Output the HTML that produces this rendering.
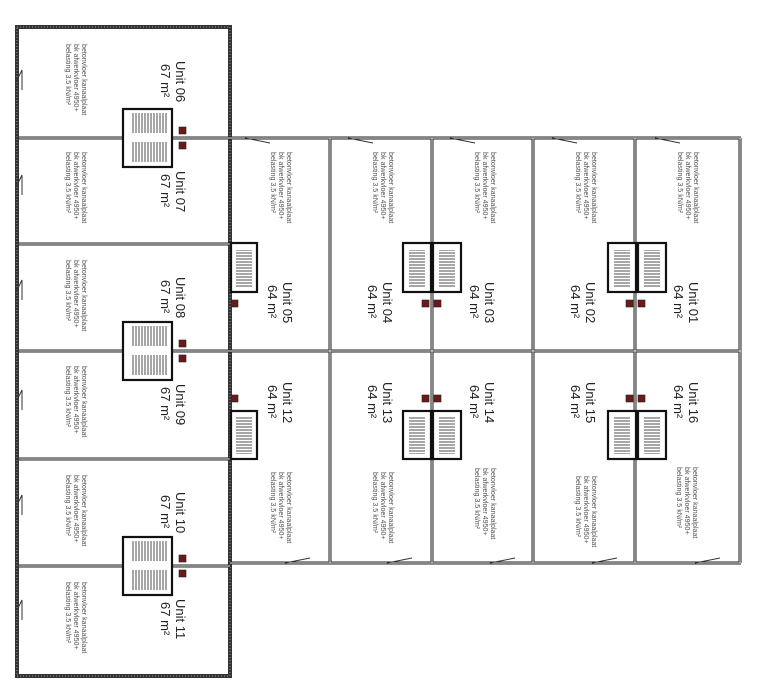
<!DOCTYPE html>
<html><head><meta charset="utf-8"><style>
html,body{margin:0;padding:0;background:#fff;width:757px;height:689px;overflow:hidden}
svg{display:block}
.u{font-family:"Liberation Sans",sans-serif;font-size:13px;fill:#222}
.n{font-family:"Liberation Sans",sans-serif;font-size:7.1px;fill:#555}
.w{stroke:#222;stroke-width:3;fill:none}
.wi{stroke:#e8e8e8;stroke-width:1;fill:none}
.st{fill:#fff;stroke:#111;stroke-width:2.2}
.r{fill:#6b1a1a;stroke:#222;stroke-width:.6}
</style></head><body>
<svg width="757" height="689" viewBox="0 0 757 689" xmlns="http://www.w3.org/2000/svg">
<defs>
<pattern id="pv" width="3" height="3" patternUnits="userSpaceOnUse"><line x1="1" y1="0" x2="1" y2="3" stroke="#222" stroke-width=".8"/></pattern>
<pattern id="ph" width="3" height="3" patternUnits="userSpaceOnUse"><line x1="0" y1="1" x2="3" y2="1" stroke="#222" stroke-width=".8"/></pattern>
</defs>
<rect x="17" y="27" width="213" height="649" fill="none" stroke="#333" stroke-width="4"/>
<rect x="17" y="27" width="213" height="649" fill="none" stroke="#999" stroke-width="1" stroke-dasharray="1 2"/>
<g class="w"><line x1="19" y1="138" x2="230" y2="138"/><line x1="19" y1="244" x2="230" y2="244"/><line x1="19" y1="351" x2="230" y2="351"/><line x1="19" y1="459" x2="230" y2="459"/><line x1="19" y1="566" x2="230" y2="566"/></g>
<g class="wi"><line x1="19" y1="138" x2="230" y2="138"/><line x1="19" y1="244" x2="230" y2="244"/><line x1="19" y1="351" x2="230" y2="351"/><line x1="19" y1="459" x2="230" y2="459"/><line x1="19" y1="566" x2="230" y2="566"/></g>
<g class="w"><line x1="230" y1="138" x2="741" y2="138"/><line x1="230" y1="563" x2="741" y2="563"/><line x1="740" y1="138" x2="740" y2="563"/><line x1="230" y1="351" x2="741" y2="351"/>
<line x1="330" y1="138" x2="330" y2="563"/><line x1="432" y1="138" x2="432" y2="563"/><line x1="533" y1="138" x2="533" y2="563"/><line x1="635" y1="138" x2="635" y2="563"/></g>
<g class="wi"><line x1="230" y1="138" x2="741" y2="138"/><line x1="230" y1="563" x2="741" y2="563"/><line x1="740" y1="138" x2="740" y2="563"/><line x1="230" y1="351" x2="741" y2="351"/>
<line x1="330" y1="138" x2="330" y2="563"/><line x1="432" y1="138" x2="432" y2="563"/><line x1="533" y1="138" x2="533" y2="563"/><line x1="635" y1="138" x2="635" y2="563"/></g>
<g stroke="#333" stroke-width="1" fill="none">
<path d="M17 80 l5 -10 v20 M17 185 l5 -10 v20 M17 290 l5 -10 v20 M17 400 l5 -10 v20 M17 505 l5 -10 v20 M17 610 l5 -10 v20"/>
<path d="M245 138 l25 5 M348 138 l25 5 M450 138 l25 5 M552 138 l25 5 M655 138 l25 5"/>
<path d="M285 563 l25 -5 M387 563 l25 -5 M490 563 l25 -5 M592 563 l25 -5 M695 563 l25 -5"/>
</g>
<g>
<rect class="st" x="123" y="109" width="49" height="58"/><rect x="132" y="113" width="36" height="20" fill="url(#pv)"/><rect x="132" y="142" width="36" height="20" fill="url(#pv)"/>
<rect class="st" x="123" y="322" width="49" height="58"/><rect x="132" y="326" width="36" height="20" fill="url(#pv)"/><rect x="132" y="355" width="36" height="20" fill="url(#pv)"/>
<rect class="st" x="123" y="537" width="49" height="58"/><rect x="132" y="541" width="36" height="20" fill="url(#pv)"/><rect x="132" y="570" width="36" height="20" fill="url(#pv)"/>
</g>
<g>
<rect class="st" x="231" y="243" width="26" height="49"/><rect x="236" y="250" width="16" height="38" fill="url(#ph)"/>
<rect class="st" x="403" y="243" width="28" height="49"/><rect x="409" y="250" width="16" height="38" fill="url(#ph)"/>
<rect class="st" x="433" y="243" width="28" height="49"/><rect x="439" y="250" width="16" height="38" fill="url(#ph)"/>
<rect class="st" x="608" y="243" width="28" height="49"/><rect x="614" y="250" width="16" height="38" fill="url(#ph)"/>
<rect class="st" x="638" y="243" width="28" height="49"/><rect x="644" y="250" width="16" height="38" fill="url(#ph)"/>
<rect class="st" x="231" y="411" width="26" height="48"/><rect x="236" y="416" width="16" height="38" fill="url(#ph)"/>
<rect class="st" x="403" y="411" width="28" height="48"/><rect x="409" y="416" width="16" height="38" fill="url(#ph)"/>
<rect class="st" x="433" y="411" width="28" height="48"/><rect x="439" y="416" width="16" height="38" fill="url(#ph)"/>
<rect class="st" x="608" y="411" width="28" height="48"/><rect x="614" y="416" width="16" height="38" fill="url(#ph)"/>
<rect class="st" x="638" y="411" width="28" height="48"/><rect x="644" y="416" width="16" height="38" fill="url(#ph)"/>
</g>
<g class="r">
<rect x="179" y="127" width="7" height="7"/><rect x="179" y="142" width="7" height="7"/>
<rect x="179" y="340" width="7" height="7"/><rect x="179" y="355" width="7" height="7"/>
<rect x="179" y="555" width="7" height="7"/><rect x="179" y="570" width="7" height="7"/>
<rect x="231" y="300" width="7" height="7"/><rect x="422" y="300" width="7" height="7"/><rect x="434" y="300" width="7" height="7"/><rect x="626" y="300" width="7" height="7"/><rect x="638" y="300" width="7" height="7"/>
<rect x="231" y="395" width="7" height="7"/><rect x="422" y="395" width="7" height="7"/><rect x="434" y="395" width="7" height="7"/><rect x="626" y="395" width="7" height="7"/><rect x="638" y="395" width="7" height="7"/>
</g>
<g class="u">
<text x="176" y="61" transform="rotate(90 176 61)">Unit 06</text><text x="161" y="64" transform="rotate(90 161 64)">67 m²</text>
<text x="176" y="171" transform="rotate(90 176 171)">Unit 07</text><text x="161" y="174" transform="rotate(90 161 174)">67 m²</text>
<text x="176" y="277" transform="rotate(90 176 277)">Unit 08</text><text x="161" y="280" transform="rotate(90 161 280)">67 m²</text>
<text x="176" y="384" transform="rotate(90 176 384)">Unit 09</text><text x="161" y="387" transform="rotate(90 161 387)">67 m²</text>
<text x="176" y="492" transform="rotate(90 176 492)">Unit 10</text><text x="161" y="495" transform="rotate(90 161 495)">67 m²</text>
<text x="176" y="599" transform="rotate(90 176 599)">Unit 11</text><text x="161" y="602" transform="rotate(90 161 602)">67 m²</text>
<text x="283" y="282" transform="rotate(90 283 282)">Unit 05</text><text x="268" y="285" transform="rotate(90 268 285)">64 m²</text>
<text x="383" y="282" transform="rotate(90 383 282)">Unit 04</text><text x="368" y="285" transform="rotate(90 368 285)">64 m²</text>
<text x="485" y="282" transform="rotate(90 485 282)">Unit 03</text><text x="470" y="285" transform="rotate(90 470 285)">64 m²</text>
<text x="586" y="282" transform="rotate(90 586 282)">Unit 02</text><text x="571" y="285" transform="rotate(90 571 285)">64 m²</text>
<text x="689" y="282" transform="rotate(90 689 282)">Unit 01</text><text x="674" y="285" transform="rotate(90 674 285)">64 m²</text>
<text x="283" y="382" transform="rotate(90 283 382)">Unit 12</text><text x="268" y="385" transform="rotate(90 268 385)">64 m²</text>
<text x="383" y="382" transform="rotate(90 383 382)">Unit 13</text><text x="368" y="385" transform="rotate(90 368 385)">64 m²</text>
<text x="485" y="382" transform="rotate(90 485 382)">Unit 14</text><text x="470" y="385" transform="rotate(90 470 385)">64 m²</text>
<text x="586" y="382" transform="rotate(90 586 382)">Unit 15</text><text x="571" y="385" transform="rotate(90 571 385)">64 m²</text>
<text x="689" y="382" transform="rotate(90 689 382)">Unit 16</text><text x="674" y="385" transform="rotate(90 674 385)">64 m²</text>
</g>
<g class="n">
<g transform="translate(82 44) rotate(90)"><text x="0" y="0">betonvloer kanaalplaat</text><text x="0" y="8">bk afwerkvloer 4950+</text><text x="0" y="16">belasting 3.5 kN/m²</text></g>
<g transform="translate(82 152) rotate(90)"><text x="0" y="0">betonvloer kanaalplaat</text><text x="0" y="8">bk afwerkvloer 4950+</text><text x="0" y="16">belasting 3.5 kN/m²</text></g>
<g transform="translate(82 260) rotate(90)"><text x="0" y="0">betonvloer kanaalplaat</text><text x="0" y="8">bk afwerkvloer 4950+</text><text x="0" y="16">belasting 3.5 kN/m²</text></g>
<g transform="translate(82 366) rotate(90)"><text x="0" y="0">betonvloer kanaalplaat</text><text x="0" y="8">bk afwerkvloer 4950+</text><text x="0" y="16">belasting 3.5 kN/m²</text></g>
<g transform="translate(82 475) rotate(90)"><text x="0" y="0">betonvloer kanaalplaat</text><text x="0" y="8">bk afwerkvloer 4950+</text><text x="0" y="16">belasting 3.5 kN/m²</text></g>
<g transform="translate(82 582) rotate(90)"><text x="0" y="0">betonvloer kanaalplaat</text><text x="0" y="8">bk afwerkvloer 4950+</text><text x="0" y="16">belasting 3.5 kN/m²</text></g>
<g transform="translate(287 152) rotate(90)"><text x="0" y="0">betonvloer kanaalplaat</text><text x="0" y="8">bk afwerkvloer 4950+</text><text x="0" y="16">belasting 3.5 kN/m²</text></g>
<g transform="translate(389 152) rotate(90)"><text x="0" y="0">betonvloer kanaalplaat</text><text x="0" y="8">bk afwerkvloer 4950+</text><text x="0" y="16">belasting 3.5 kN/m²</text></g>
<g transform="translate(491 152) rotate(90)"><text x="0" y="0">betonvloer kanaalplaat</text><text x="0" y="8">bk afwerkvloer 4950+</text><text x="0" y="16">belasting 3.5 kN/m²</text></g>
<g transform="translate(592 152) rotate(90)"><text x="0" y="0">betonvloer kanaalplaat</text><text x="0" y="8">bk afwerkvloer 4950+</text><text x="0" y="16">belasting 3.5 kN/m²</text></g>
<g transform="translate(694 152) rotate(90)"><text x="0" y="0">betonvloer kanaalplaat</text><text x="0" y="8">bk afwerkvloer 4950+</text><text x="0" y="16">belasting 3.5 kN/m²</text></g>
<g transform="translate(287 472) rotate(90)"><text x="0" y="0">betonvloer kanaalplaat</text><text x="0" y="8">bk afwerkvloer 4950+</text><text x="0" y="16">belasting 3.5 kN/m²</text></g>
<g transform="translate(389 472) rotate(90)"><text x="0" y="0">betonvloer kanaalplaat</text><text x="0" y="8">bk afwerkvloer 4950+</text><text x="0" y="16">belasting 3.5 kN/m²</text></g>
<g transform="translate(491 468) rotate(90)"><text x="0" y="0">betonvloer kanaalplaat</text><text x="0" y="8">bk afwerkvloer 4950+</text><text x="0" y="16">belasting 3.5 kN/m²</text></g>
<g transform="translate(592 476) rotate(90)"><text x="0" y="0">betonvloer kanaalplaat</text><text x="0" y="8">bk afwerkvloer 4950+</text><text x="0" y="16">belasting 3.5 kN/m²</text></g>
<g transform="translate(693 467) rotate(90)"><text x="0" y="0">betonvloer kanaalplaat</text><text x="0" y="8">bk afwerkvloer 4950+</text><text x="0" y="16">belasting 3.5 kN/m²</text></g>
</g>
</svg>
</body></html>
